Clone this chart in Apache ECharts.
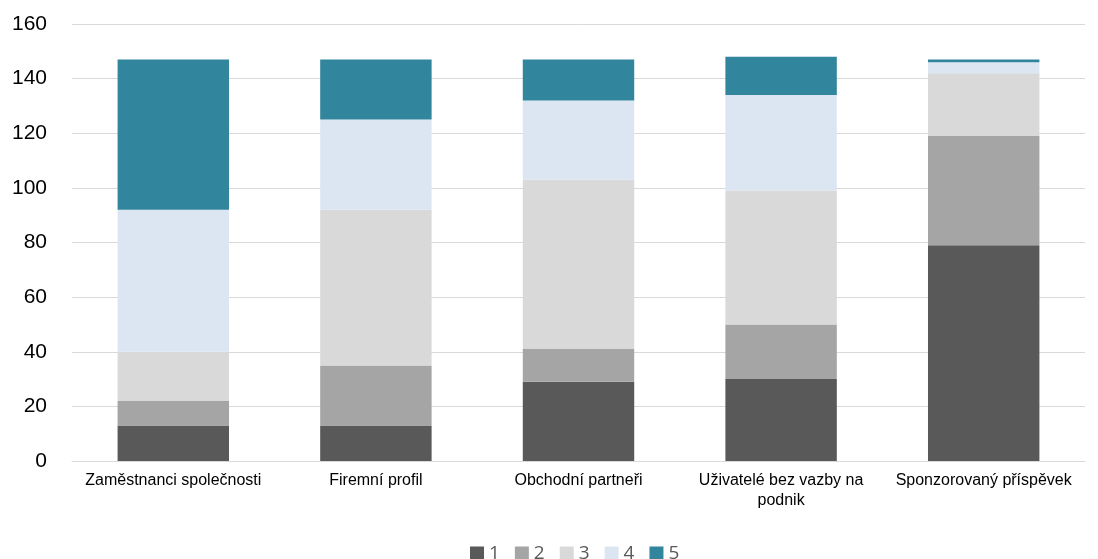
<!DOCTYPE html>
<html>
<head>
<meta charset="utf-8">
<script src="https://cdn.jsdelivr.net/npm/echarts@6/dist/echarts.min.js"></script>
<style>
  html, body { margin: 0; padding: 0; background: #fff; }
  #chart { width: 1098px; height: 559px; }
</style>
</head>
<body>
<div id="chart"></div>
<script>
const categories = ['Zaměstnanci společnosti', 'Firemní profil', 'Obchodní partneři', 'Uživatelé bez vazby na podnik', 'Sponzorovaný příspěvek'];
const seriesNames = ['1', '2', '3', '4', '5'];
const values1 = [13, 13, 29, 30, 79];
const values2 = [9, 22, 12, 20, 40];
const values3 = [18, 57, 62, 49, 23];
const values4 = [52, 33, 29, 35, 4];
const values5 = [55, 22, 15, 14, 1];
const colors = ['#595959', '#a5a5a5', '#d9d9d9', '#dce6f2', '#31859c'];

const allValues = [values1, values2, values3, values4, values5];

// jednoduché zalamování popisků podle počtu znaků
function wrapLabel(text, maxChars = 24) {
    const words = text.split(' ');
    const lines = [];
    let line = '';
    words.forEach(w => {
        if (line && (line + ' ' + w).length > maxChars) {
            lines.push(line);
            line = w;
        } else {
            line = line ? line + ' ' + w : w;
        }
    });
    if (line) lines.push(line);
    return lines.join('\n');
}

const chart = echarts.init(document.getElementById('chart'));

const option = {
    animation: false,
    legend: {
        top: 539,
        left: 465,
        itemWidth: 14,
        itemHeight: 14,
        itemGap: 15,
        icon: 'rect',
        textStyle: { fontFamily: 'Open Sans', fontSize: 19, color: '#595959' },
        data: seriesNames
    },
    grid: {
        left: 72,
        right: 13,
        top: 24,
        bottom: 98
    },
    xAxis: {
        type: 'category',
        data: categories,
        axisLine: { show: true, lineStyle: { color: '#d9d9d9', width: 1 } },
        axisTick: { show: false },
        axisLabel: {
            fontFamily: 'Liberation Sans',
            fontSize: 16,
            color: '#000',
            margin: 10,
            interval: 0,
            lineHeight: 20,
            formatter: (v) => wrapLabel(v)
        }
    },
    yAxis: {
        type: 'value',
        min: 0,
        max: 160,
        interval: 20,
        axisLine: { show: false },
        axisTick: { show: false },
        splitLine: { lineStyle: { color: '#d9d9d9', width: 1 } },
        axisLabel: {
            fontFamily: 'Liberation Sans',
            fontSize: 21,
            color: '#000',
            margin: 25
        }
    },
    series: seriesNames.map((name, i) => ({
        name: name,
        type: 'bar',
        stack: 'total',
        barWidth: '55%',
        data: allValues[i],
        itemStyle: { color: colors[i] }
    }))
};

chart.setOption(option);
</script>
</body>
</html>
